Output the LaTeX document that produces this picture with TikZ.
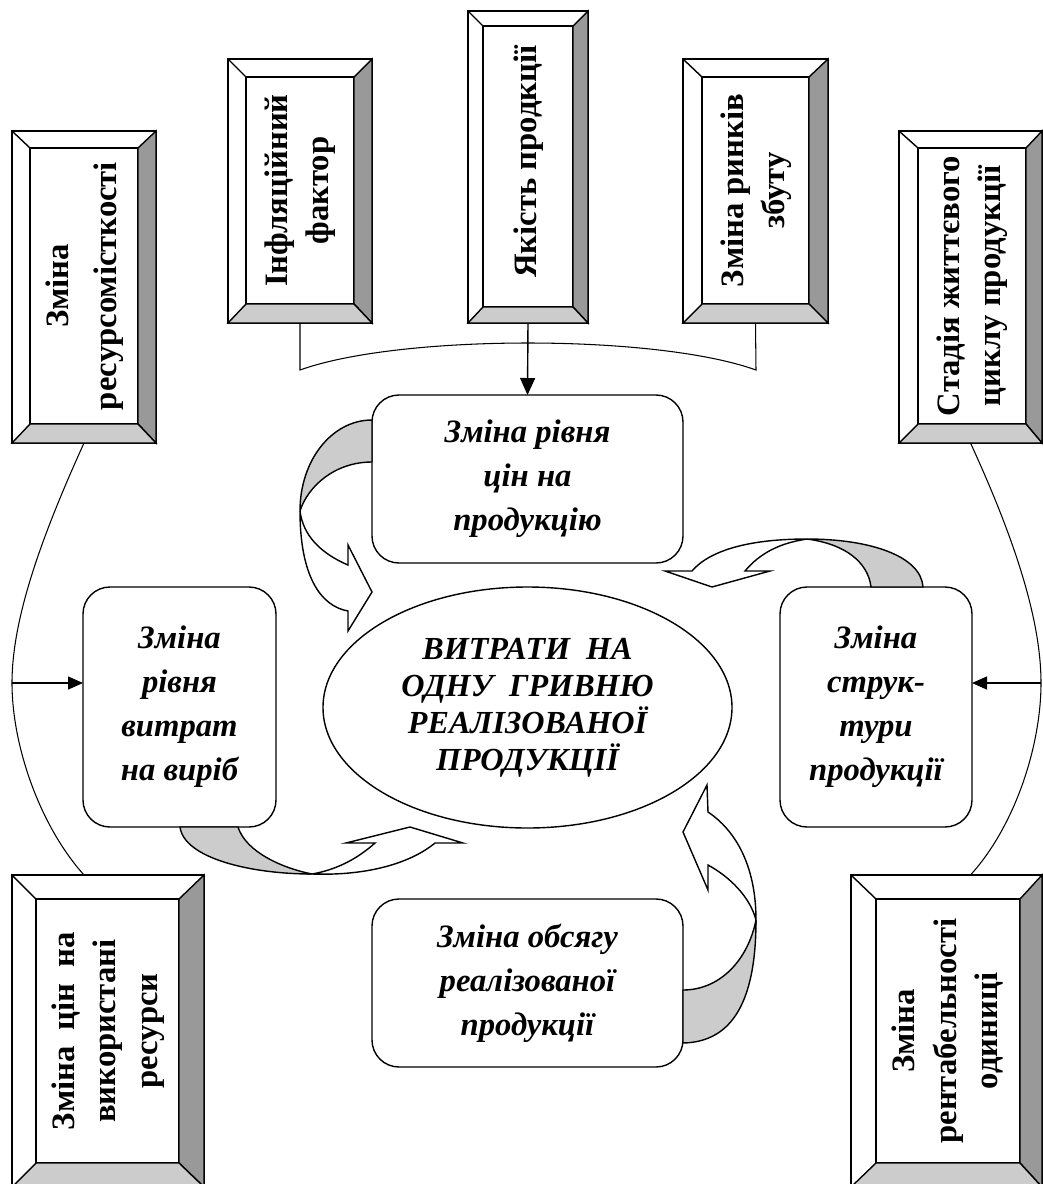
\documentclass[tikz,border=0pt]{standalone}
\usepackage{fontspec}
\setmainfont{Liberation Serif}
\usepackage{graphicx}
\usetikzlibrary{arrows.meta, shapes.geometric}

\definecolor{bevdark}{gray}{0.6}
\definecolor{bevlight}{gray}{0.8}

\newcommand{\bevfont}{\fontsize{18.6}{23.5}\selectfont\bfseries}
\newcommand{\factfont}{\fontsize{18.6}{25}\selectfont\bfseries\itshape}
\newcommand{\corefont}{\fontsize{18.3}{21}\selectfont\bfseries\itshape}
\newcommand{\vtext}[1]{\rotatebox{90}{\begin{tabular}{@{}c@{}}#1\end{tabular}}}

\tikzstyle{frame} = [draw, fill=white, inner sep=0pt, outer sep=0pt]
\tikzstyle{face} = [draw, fill=white, inner sep=0pt, outer sep=0pt, font=\bevfont]
\tikzstyle{factor} = [draw, fill=white, rounded corners=0.54cm, align=center, inner sep=0pt, outer sep=0pt, font=\factfont]
\tikzstyle{band} = [draw, fill=bevlight, line join=round]
\tikzstyle{ribbon} = [draw, fill=white]
\tikzstyle{link} = [line width=0.6pt]
\tikzset{sz/.style 2 args={minimum width=#1*0.02cm, minimum height=#2*0.02cm}}

\begin{document}
\begin{tikzpicture}[x=0.02cm, y=-0.02cm, line width=0.8pt]
    \useasboundingbox (0,0) rectangle (1043,1184);

    \node[frame, sz={144}{312}] (res-o) at (84,287) {};
    \node[face, sz={108}{276}] (res) at (84,286) {\vtext{Зміна\\[4pt]ресурсомісткості}};
    \node[frame, sz={144}{264}] (infl-o) at (300,191) {};
    \node[face, sz={108}{227}] (infl) at (300,190.5) {\vtext{Інфляційний\\фактор}};
    \node[frame, sz={120}{312}] (yak-o) at (528,167) {};
    \node[face, sz={90}{281}] (yak) at (528,166.5) {\vtext{\hspace*{0.2cm}Якість продкції}};
    \node[frame, sz={145}{264}] (rynok-o) at (755.5,191) {};
    \node[face, sz={107}{227}] (rynok) at (755.5,190.5) {\vtext{Зміна ринків\\збуту}};
    \node[frame, sz={143}{312}] (stad-o) at (970.5,287) {};
    \node[face, sz={108}{276}] (stad) at (972,286) {\vtext{Стадія життєвого\\циклу продукції}};
    \node[frame, sz={192}{312}] (tsin-o) at (108,1031) {};
    \node[face, sz={143}{264}] (tsin) at (107.5,1031) {\vtext{Зміна\ \ цін\ \ на\\використані\\ресурси}};
    \node[frame, sz={191}{312}] (rent-o) at (946.5,1031) {};
    \node[face, sz={144}{264}] (rent) at (948,1031) {\vtext{Зміна\\рентабельності\\одиниці}};

    \foreach \n in {res,infl,yak,rynok,stad,tsin,rent} {
        \filldraw[fill=bevdark] (\n-o.north east) -- (\n.north east) -- (\n.south east) -- (\n-o.south east) -- cycle;
        \filldraw[fill=bevlight] (\n-o.south west) -- (\n.south west) -- (\n.south east) -- (\n-o.south east) -- cycle;
        \draw (\n-o.north west) -- (\n.north west);
    }

    \node[factor, sz={311}{168}] (tsiny) at (527.5,479) {Зміна рівня\\цін на\\продукцію};
    \node[factor, sz={193}{240}] (vytr) at (179.5,707) {Зміна\\рівня\\витрат\\на виріб};
    \node[factor, sz={192}{240}] (strukt) at (876,707) {Зміна\\струк-\\тури\\продукції};
    \node[factor, sz={311}{168}] (obsyag) at (527.5,983) {Зміна обсягу\\реалізованої\\продукції};
    \node[draw, ellipse, fill=white, sz={409}{241}, inner sep=0pt, outer sep=0pt, align=center, font=\corefont] (core) at (527.5,707.5)
        {ВИТРАТИ\ \ НА\\ОДНУ\ \ ГРИВНЮ\\РЕАЛІЗОВАНОЇ\\ПРОДУКЦІЇ};

    \draw[link] (infl-o.south) -- (300,370) .. controls (400,334) and (656,334) .. (756,370) -- (rynok-o.south);
    \draw[-{Triangle[length=0.34cm,width=0.3cm]}] (yak-o.south) -- (tsiny.north);

    \coordinate (lft) at (12,683);
    \coordinate (rgt) at (1041,683);
    \draw[link] (res-o.south) .. controls (40,540) and (12,620) .. (lft) .. controls (12,746) and (40,826) .. (res-o.south |- tsin-o.north);
    \draw[link] (stad-o.south) .. controls (1015,540) and (1041,620) .. (rgt) .. controls (1041,746) and (1015,826) .. (stad-o.south |- rent-o.north);
    \draw[-{Triangle[length=0.3cm,width=0.26cm]}] (lft) -- (lft -| vytr.west);
    \draw[-{Triangle[length=0.3cm,width=0.26cm]}] (rgt) -- (rgt -| strukt.east);

    \filldraw[band] (372,420) .. controls (332,420) and (300,460) .. (300,511) .. controls (308,486) and (335,462) .. (372,462) -- cycle;
    \filldraw[ribbon] (300,511) .. controls (300,575) and (320,606) .. (348,611) -- (348,631) -- (372,592) -- (348,545) -- (348,565) .. controls (320,553) and (303,535) .. (300,511) -- cycle;

    \filldraw[band] (923,587) .. controls (921,556) and (870,539) .. (807,539) .. controls (845,544) and (868,562) .. (871,587) -- cycle;
    \filldraw[ribbon] (807,539) .. controls (750,539) and (710,550) .. (692,571) -- (665,571) -- (712,587) -- (770,571) -- (745,571) .. controls (760,553) and (780,543) .. (807,539) -- cycle;

    \filldraw[band] (180,827) .. controls (184,858) and (250,874) .. (312,874) .. controls (282,868) and (246,852) .. (238,827) -- cycle;
    \filldraw[ribbon] (312,874) .. controls (370,876) and (412,862) .. (435,843) -- (463,843) -- (410,827) -- (346,843) -- (375,843) .. controls (356,860) and (335,870) .. (312,874) -- cycle;

    \filldraw[band] (683,1043) .. controls (733,1042) and (756,1000) .. (756,920) .. controls (748,960) and (720,990) .. (683,990) -- cycle;
    \filldraw[ribbon] (756,920) .. controls (756,865) and (735,830) .. (708,812) -- (707,785) -- (683,832) -- (708,890) -- (708,865) .. controls (730,877) and (750,897) .. (756,920) -- cycle;
\end{tikzpicture}
\end{document}
